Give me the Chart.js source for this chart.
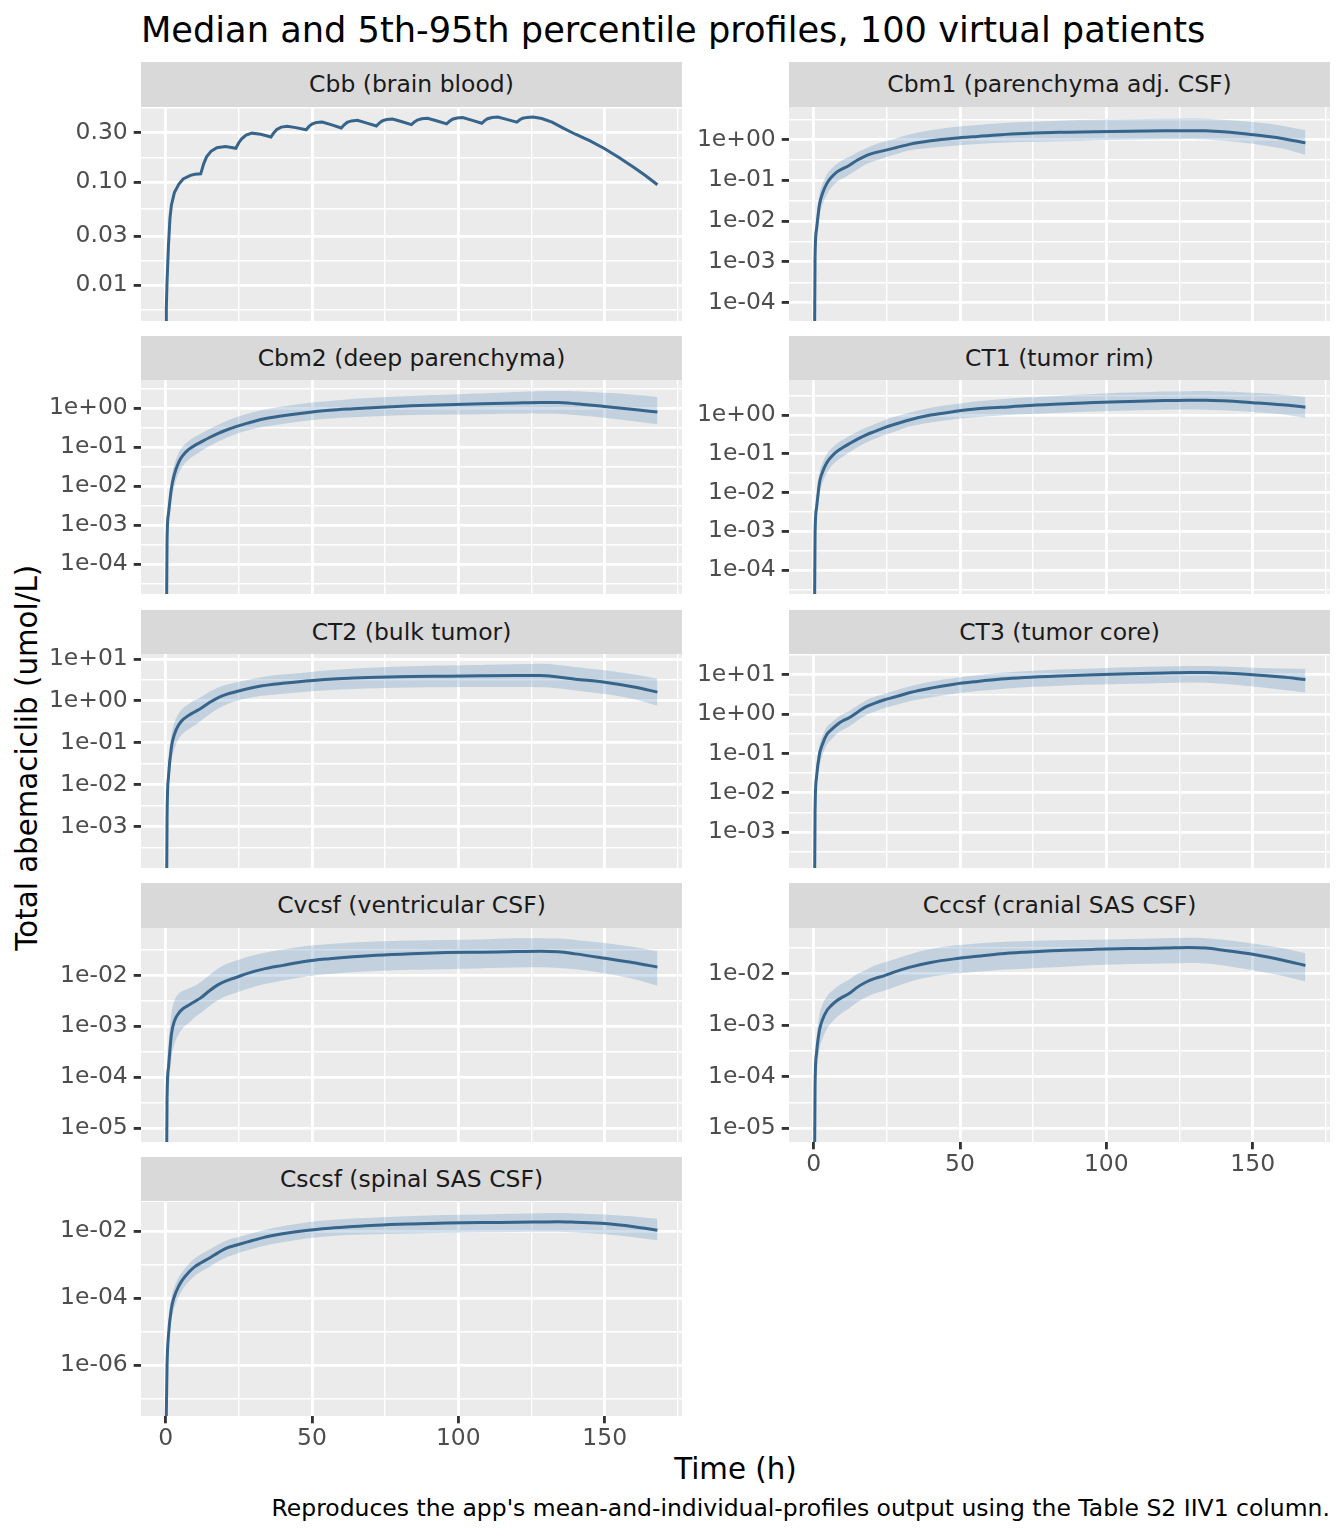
<!DOCTYPE html>
<html>
<head>
<meta charset="utf-8">
<script src="https://cdn.jsdelivr.net/npm/chart.js@4.4.1/dist/chart.umd.min.js"></script>
<style>
    body { margin: 0; width: 1344px; height: 1536px; background: #fff; position: relative; overflow: hidden; font-family: "DejaVu Sans", sans-serif; }
    canvas { position: absolute; }
    .txt { position: absolute; white-space: nowrap; }
    .strip { position: absolute; background: #D9D9D9; color: #1A1A1A; font-size: 23.47px; text-align: center; white-space: nowrap; }
</style>
</head>
<body>
<div class="txt" style="left:141px; top:11.9px; font-size:35.2px; line-height:35.2px; color:#000;">Median and 5th-95th percentile profiles, 100 virtual patients</div>
<div class="txt" style="left:-272.2px; top:742.9px; width:600px; text-align:center; font-size:29.33px; line-height:29.33px; color:#000; transform:rotate(-90deg);">Total abemaciclib (umol/L)</div>
<div class="txt" style="left:435.5px; top:1455.2px; width:600px; text-align:center; font-size:29.33px; line-height:29.33px; color:#000;">Time (h)</div>
<div class="txt" style="left:29.9px; top:1497.1px; width:1300px; text-align:right; font-size:23.47px; line-height:23.47px; color:#000;">Reproduces the app's mean-and-individual-profiles output using the Table S2 IIV1 column.</div>

<script>
// Time grid (h) shared by the ribbon panels
const timeH = [0, 0.5, 1, 2, 3, 4.5, 6, 8, 10, 12, 15, 18, 21, 24, 28, 33, 40, 48, 56, 64, 72, 84, 96, 108, 120, 128, 134, 140, 150, 160, 168];

// Cbb has no spread, only the median, on a finer grid (12 h dosing)
const cbbTime = [0, 0.25, 0.5, 1, 1.5, 2, 3, 4.5, 6, 8.5, 10,
    12, 13, 14, 15.5, 17.5, 20.5,
    24, 25, 26, 27.5, 29.5, 32.5,
    36, 37, 38, 39.5, 41.5, 44.5,
    48, 49, 50, 51.5, 53.5, 56.5,
    60, 61, 62, 63.5, 65.5, 68.5,
    72, 73, 74, 75.5, 77.5, 80.5,
    84, 85, 86, 87.5, 89.5, 92.5,
    96, 97, 98, 99.5, 101.5, 104.5,
    108, 109, 110, 111.5, 113.5, 116.5,
    120, 121, 122, 123.5, 125.5, 128.5,
    132, 136, 140, 145, 150, 155, 160, 164, 168];
const cbbMedian = [1e-9, 0.006, 0.011, 0.025, 0.045, 0.06, 0.079, 0.095, 0.107, 0.116, 0.119,
    0.12, 0.15, 0.175, 0.198, 0.215, 0.22,
    0.212, 0.24, 0.262, 0.284, 0.297, 0.29,
    0.273, 0.3, 0.322, 0.34, 0.346, 0.336,
    0.32, 0.345, 0.363, 0.377, 0.381, 0.359,
    0.333, 0.358, 0.377, 0.39, 0.395, 0.373,
    0.348, 0.372, 0.39, 0.402, 0.407, 0.385,
    0.359, 0.382, 0.398, 0.409, 0.413, 0.391,
    0.365, 0.388, 0.405, 0.416, 0.42, 0.397,
    0.37, 0.393, 0.41, 0.421, 0.425, 0.404,
    0.38, 0.4, 0.414, 0.422, 0.425, 0.412,
    0.38, 0.33, 0.29, 0.25, 0.21, 0.172, 0.138, 0.115, 0.094];

// Median, 5th and 95th percentiles (umol/L), value at t = 0 is zero (drawn at the floor)
const cbm1Median = [1e-9, 1.26e-3, 6.31e-3, 2.51e-2, 4.68e-2, 8.32e-2, 0.1175, 0.162, 0.195, 0.229, 0.316, 0.407, 0.479, 0.537, 0.631, 0.776, 0.933, 1.08, 1.20, 1.32, 1.41, 1.51, 1.55, 1.60, 1.64, 1.66, 1.64, 1.55, 1.32, 1.07, 0.832];
const cbm1High = [1e-9, 2.51e-3, 1.26e-2, 4.47e-2, 7.94e-2, 0.138, 0.191, 0.257, 0.316, 0.372, 0.49, 0.617, 0.759, 0.891, 1.07, 1.35, 1.70, 2.04, 2.29, 2.51, 2.69, 2.92, 3.05, 3.16, 3.24, 3.31, 3.27, 3.09, 2.69, 2.19, 1.70];
const cbm1Low = [1e-9, 5.01e-4, 2.82e-3, 1.26e-2, 2.51e-2, 4.47e-2, 6.61e-2, 9.12e-2, 0.112, 0.135, 0.186, 0.251, 0.302, 0.355, 0.437, 0.550, 0.631, 0.708, 0.776, 0.832, 0.871, 0.912, 0.955, 0.989, 1.02, 1.04, 1.01, 0.933, 0.794, 0.603, 0.427];

const cbm2Median = [1e-9, 3.98e-4, 2.00e-3, 8.91e-3, 2.00e-2, 4.17e-2, 6.31e-2, 8.91e-2, 0.112, 0.135, 0.178, 0.229, 0.282, 0.339, 0.417, 0.525, 0.646, 0.776, 0.891, 0.977, 1.06, 1.16, 1.24, 1.32, 1.38, 1.41, 1.41, 1.32, 1.11, 0.933, 0.804];
const cbm2High = [1e-9, 7.94e-4, 3.98e-3, 1.66e-2, 3.55e-2, 7.24e-2, 0.107, 0.148, 0.186, 0.224, 0.295, 0.380, 0.479, 0.589, 0.724, 0.912, 1.12, 1.35, 1.55, 1.74, 1.91, 2.09, 2.24, 2.40, 2.63, 2.75, 2.79, 2.75, 2.51, 2.24, 1.95];
const cbm2Low = [1e-9, 1.58e-4, 8.91e-4, 4.17e-3, 1.00e-2, 2.19e-2, 3.39e-2, 4.90e-2, 6.31e-2, 7.94e-2, 0.107, 0.141, 0.178, 0.219, 0.269, 0.331, 0.398, 0.479, 0.550, 0.589, 0.631, 0.676, 0.692, 0.708, 0.733, 0.741, 0.724, 0.676, 0.575, 0.468, 0.389];

const ct1Median = [1e-9, 7.94e-4, 3.98e-3, 1.78e-2, 3.31e-2, 5.89e-2, 8.32e-2, 0.115, 0.145, 0.178, 0.240, 0.309, 0.380, 0.468, 0.589, 0.759, 1.00, 1.23, 1.45, 1.58, 1.74, 1.93, 2.11, 2.24, 2.37, 2.43, 2.43, 2.34, 2.09, 1.84, 1.60];
const ct1High = [1e-9, 1.41e-3, 7.08e-3, 3.16e-2, 5.62e-2, 9.77e-2, 0.135, 0.182, 0.229, 0.282, 0.372, 0.479, 0.589, 0.724, 0.912, 1.17, 1.55, 1.91, 2.29, 2.57, 2.82, 3.16, 3.51, 3.80, 4.03, 4.12, 4.17, 4.07, 3.76, 3.35, 2.92];
const ct1Low = [1e-9, 3.55e-4, 2.00e-3, 8.91e-3, 1.74e-2, 3.16e-2, 4.68e-2, 6.61e-2, 8.51e-2, 0.107, 0.148, 0.195, 0.245, 0.302, 0.380, 0.513, 0.646, 0.776, 0.891, 0.977, 1.05, 1.15, 1.24, 1.32, 1.38, 1.40, 1.38, 1.33, 1.20, 1.05, 0.851];

const ct2Median = [1e-9, 1.58e-3, 1.58e-2, 7.94e-2, 0.158, 0.269, 0.363, 0.457, 0.550, 0.661, 0.912, 1.20, 1.45, 1.66, 1.95, 2.29, 2.63, 2.99, 3.31, 3.51, 3.67, 3.85, 3.89, 3.98, 4.03, 4.03, 3.72, 3.31, 2.79, 2.14, 1.62];
const ct2High = [1e-9, 3.16e-3, 3.16e-2, 0.151, 0.302, 0.501, 0.676, 0.851, 1.05, 1.23, 1.66, 2.09, 2.45, 2.75, 3.16, 3.72, 4.27, 4.79, 5.37, 5.89, 6.31, 6.76, 7.00, 7.24, 7.50, 7.67, 7.24, 6.46, 5.37, 4.27, 3.39];
const ct2Low = [1e-9, 6.31e-4, 7.08e-3, 3.55e-2, 7.08e-2, 0.126, 0.170, 0.214, 0.263, 0.331, 0.479, 0.661, 0.832, 0.977, 1.15, 1.32, 1.48, 1.66, 1.82, 1.93, 2.00, 2.09, 2.11, 2.14, 2.14, 2.11, 2.00, 1.78, 1.46, 1.10, 0.776];

const ct3Median = [1e-9, 3.16e-3, 2.51e-2, 9.55e-2, 0.170, 0.302, 0.398, 0.537, 0.676, 0.794, 1.12, 1.55, 1.91, 2.29, 2.75, 3.55, 4.57, 5.75, 6.76, 7.76, 8.51, 9.33, 10.0, 10.6, 11.1, 11.4, 11.4, 11.0, 10.0, 8.71, 7.59];
const ct3High = [1e-9, 5.62e-3, 4.47e-2, 0.158, 0.275, 0.468, 0.603, 0.794, 1.00, 1.17, 1.66, 2.24, 2.75, 3.24, 3.98, 5.13, 6.61, 8.32, 9.77, 11.2, 12.3, 13.5, 14.5, 15.5, 16.2, 16.8, 16.8, 16.2, 15.1, 14.5, 14.1];
const ct3Low = [1e-9, 1.41e-3, 1.12e-2, 4.79e-2, 8.91e-2, 0.166, 0.224, 0.316, 0.398, 0.479, 0.692, 0.955, 1.17, 1.41, 1.70, 2.14, 2.69, 3.31, 3.89, 4.37, 4.79, 5.25, 5.62, 5.89, 6.17, 6.31, 6.24, 5.89, 5.01, 4.17, 3.55];

const cvcsfMedian = [1e-9, 3.98e-5, 1.58e-4, 7.08e-4, 1.26e-3, 1.82e-3, 2.24e-3, 2.63e-3, 3.09e-3, 3.63e-3, 5.01e-3, 6.61e-3, 7.94e-3, 9.12e-3, 1.10e-2, 1.32e-2, 1.58e-2, 1.91e-2, 2.14e-2, 2.34e-2, 2.51e-2, 2.69e-2, 2.82e-2, 2.88e-2, 2.95e-2, 2.99e-2, 2.92e-2, 2.66e-2, 2.19e-2, 1.78e-2, 1.46e-2];
const cvcsfHigh = [1e-9, 1.00e-4, 4.47e-4, 1.78e-3, 3.16e-3, 4.37e-3, 5.01e-3, 5.62e-3, 6.31e-3, 7.41e-3, 1.02e-2, 1.38e-2, 1.70e-2, 1.95e-2, 2.34e-2, 2.75e-2, 3.24e-2, 3.80e-2, 4.17e-2, 4.47e-2, 4.68e-2, 4.90e-2, 5.01e-2, 5.13e-2, 5.37e-2, 5.43e-2, 5.31e-2, 5.01e-2, 4.37e-2, 3.63e-2, 2.99e-2];
const cvcsfLow = [1e-9, 1.26e-5, 5.01e-5, 2.40e-4, 4.47e-4, 7.08e-4, 9.33e-4, 1.17e-3, 1.51e-3, 1.82e-3, 2.51e-3, 3.31e-3, 3.98e-3, 4.57e-3, 5.50e-3, 6.61e-3, 7.94e-3, 9.55e-3, 1.07e-2, 1.17e-2, 1.23e-2, 1.29e-2, 1.33e-2, 1.38e-2, 1.43e-2, 1.45e-2, 1.41e-2, 1.32e-2, 1.10e-2, 8.51e-3, 6.31e-3];

const cccsfMedian = [1e-9, 6.31e-5, 2.82e-4, 7.94e-4, 1.26e-3, 1.91e-3, 2.40e-3, 3.02e-3, 3.55e-3, 4.07e-3, 5.50e-3, 6.92e-3, 8.13e-3, 9.12e-3, 1.10e-2, 1.35e-2, 1.66e-2, 1.95e-2, 2.19e-2, 2.45e-2, 2.63e-2, 2.85e-2, 2.99e-2, 3.09e-2, 3.16e-2, 3.24e-2, 3.16e-2, 2.88e-2, 2.40e-2, 1.86e-2, 1.45e-2];
const cccsfHigh = [1e-9, 1.26e-4, 5.62e-4, 1.58e-3, 2.51e-3, 3.63e-3, 4.47e-3, 5.62e-3, 6.61e-3, 7.59e-3, 1.00e-2, 1.20e-2, 1.45e-2, 1.66e-2, 1.95e-2, 2.40e-2, 3.02e-2, 3.55e-2, 3.89e-2, 4.17e-2, 4.32e-2, 4.47e-2, 4.57e-2, 4.73e-2, 4.90e-2, 5.01e-2, 4.90e-2, 4.57e-2, 3.89e-2, 3.16e-2, 2.51e-2];
const cccsfLow = [1e-9, 2.51e-5, 1.12e-4, 3.31e-4, 5.37e-4, 8.32e-4, 1.10e-3, 1.45e-3, 1.78e-3, 2.09e-3, 2.82e-3, 3.55e-3, 4.17e-3, 4.68e-3, 5.62e-3, 7.08e-3, 8.71e-3, 1.00e-2, 1.10e-2, 1.20e-2, 1.26e-2, 1.35e-2, 1.48e-2, 1.55e-2, 1.58e-2, 1.62e-2, 1.58e-2, 1.45e-2, 1.17e-2, 9.12e-3, 7.08e-3];

const cscsfMedian = [1e-9, 1.00e-6, 7.94e-6, 5.01e-5, 1.12e-4, 2.29e-4, 3.72e-4, 6.03e-4, 8.71e-4, 1.12e-3, 1.58e-3, 2.29e-3, 3.16e-3, 3.80e-3, 4.79e-3, 6.31e-3, 8.32e-3, 1.05e-2, 1.23e-2, 1.38e-2, 1.51e-2, 1.64e-2, 1.74e-2, 1.80e-2, 1.84e-2, 1.88e-2, 1.91e-2, 1.84e-2, 1.68e-2, 1.35e-2, 1.07e-2];
const cscsfHigh = [1e-9, 2.00e-6, 1.58e-5, 1.00e-4, 2.14e-4, 4.17e-4, 6.61e-4, 1.07e-3, 1.55e-3, 2.00e-3, 2.82e-3, 3.98e-3, 5.37e-3, 6.31e-3, 7.94e-3, 1.05e-2, 1.41e-2, 1.82e-2, 2.14e-2, 2.40e-2, 2.57e-2, 2.82e-2, 3.02e-2, 3.16e-2, 3.31e-2, 3.43e-2, 3.47e-2, 3.39e-2, 3.16e-2, 2.75e-2, 2.34e-2];
const cscsfLow = [1e-9, 3.98e-7, 3.55e-6, 2.24e-5, 5.25e-5, 1.12e-4, 1.91e-4, 3.16e-4, 4.68e-4, 6.17e-4, 8.71e-4, 1.26e-3, 1.70e-3, 2.09e-3, 2.69e-3, 3.55e-3, 4.68e-3, 6.03e-3, 7.08e-3, 7.76e-3, 8.13e-3, 8.51e-3, 8.91e-3, 9.23e-3, 9.44e-3, 9.55e-3, 9.55e-3, 9.12e-3, 8.13e-3, 6.61e-3, 5.37e-3];

// Axis ticks
const xMajor = [0, 50, 100, 150];
const xMinor = [25, 75, 125, 175];
const xTickLabels = ['0', '50', '100', '150'];
const cbbBreaks = [0.01, 0.03, 0.1, 0.3];
const cbbLabels = ['0.01', '0.03', '0.10', '0.30'];
const decBreaks4to0 = [1e-4, 1e-3, 1e-2, 1e-1, 1];
const decLabels4to0 = ['1e-04', '1e-03', '1e-02', '1e-01', '1e+00'];
const decBreaks3to1 = [1e-3, 1e-2, 1e-1, 1, 10];
const decLabels3to1 = ['1e-03', '1e-02', '1e-01', '1e+00', '1e+01'];
const csfBreaks = [1e-5, 1e-4, 1e-3, 1e-2];
const csfLabels = ['1e-05', '1e-04', '1e-03', '1e-02'];
const spinalBreaks = [1e-6, 1e-4, 1e-2];
const spinalLabels = ['1e-06', '1e-04', '1e-02'];

// Colours
const LINE_COLOR = '#36648B';
const BAND_COLOR = 'rgba(70, 130, 180, 0.25)';

Chart.defaults.font.family = "'DejaVu Sans', sans-serif";

// Layout (px)
const PANEL_TOP = 106.7;
const ROW_STEP = 273.7;
const PANEL_H = 214;
const PANEL_W = 541;
const STRIP_H = 44.4;
const MARGIN = 16;
const AXIS_H = 60;

const panels = [
    { title: 'Cbb (brain blood)', row: 0, col: 0, time: cbbTime, median: cbbMedian, yMin: 0.00451, yMax: 0.532, breaks: cbbBreaks, labels: cbbLabels },
    { title: 'Cbm1 (parenchyma adj. CSF)', row: 0, col: 1, time: timeH, median: cbm1Median, low: cbm1Low, high: cbm1High, yMin: 3.55e-5, yMax: 6.31, breaks: decBreaks4to0, labels: decLabels4to0 },
    { title: 'Cbm2 (deep parenchyma)', row: 1, col: 0, time: timeH, median: cbm2Median, low: cbm2Low, high: cbm2High, yMin: 1.69e-5, yMax: 5.36, breaks: decBreaks4to0, labels: decLabels4to0 },
    { title: 'CT1 (tumor rim)', row: 1, col: 1, time: timeH, median: ct1Median, low: ct1Low, high: ct1High, yMin: 2.40e-5, yMax: 8.04, breaks: decBreaks4to0, labels: decLabels4to0 },
    { title: 'CT2 (bulk tumor)', row: 2, col: 0, time: timeH, median: ct2Median, low: ct2Low, high: ct2High, yMin: 1.02e-4, yMax: 13.2, breaks: decBreaks3to1, labels: decLabels3to1 },
    { title: 'CT3 (tumor core)', row: 2, col: 1, time: timeH, median: ct3Median, low: ct3Low, high: ct3High, yMin: 1.233e-4, yMax: 33.65, breaks: decBreaks3to1, labels: decLabels3to1 },
    { title: 'Cvcsf (ventricular CSF)', row: 3, col: 0, time: timeH, median: cvcsfMedian, low: cvcsfLow, high: cvcsfHigh, yMin: 5.30e-6, yMax: 0.0859, breaks: csfBreaks, labels: csfLabels },
    { title: 'Cccsf (cranial SAS CSF)', row: 3, col: 1, time: timeH, median: cccsfMedian, low: cccsfLow, high: cccsfHigh, yMin: 5.33e-6, yMax: 0.0778, breaks: csfBreaks, labels: csfLabels, xAxis: true },
    { title: 'Cscsf (spinal SAS CSF)', row: 4, col: 0, time: timeH, median: cscsfMedian, low: cscsfLow, high: cscsfHigh, yMin: 3.43e-8, yMax: 0.0743, breaks: spinalBreaks, labels: spinalLabels, xAxis: true }
];

// Grey panel background
const panelBackground = {
    id: 'panelBackground',
    beforeDraw(chart) {
        const a = chart.chartArea;
        const ctx = chart.ctx;
        ctx.save();
        ctx.fillStyle = '#EBEBEB';
        ctx.fillRect(a.left, a.top, a.right - a.left, a.bottom - a.top);
        ctx.restore();
    }
};

// Minor breaks sit half way (in log space) between the major ones
function minorBreaks(breaks, lo, hi) {
    const logs = breaks.map(Math.log10);
    const ext = [logs[0] - (logs[1] - logs[0]), ...logs, logs[logs.length - 1] + (logs[logs.length - 1] - logs[logs.length - 2])];
    const out = [];
    for (let i = 0; i < ext.length - 1; i++) {
        const v = Math.pow(10, (ext[i] + ext[i + 1]) / 2);
        if (v > lo && v < hi) out.push(v);
    }
    return out;
}

const pts = (xs, ys) => xs.map((x, i) => ({ x: x, y: ys[i] }));
const isMinor = ctx => ctx.tick && ctx.tick.isMinor;

function buildPanel(p) {
    const left = p.col === 0 ? 0 : 689;
    const axisW = p.col === 0 ? 141 : 100;
    const panelTop = PANEL_TOP + ROW_STEP * p.row;

    // strip
    const strip = document.createElement('div');
    strip.className = 'strip';
    strip.style.left = (left + axisW) + 'px';
    strip.style.top = (panelTop - STRIP_H) + 'px';
    strip.style.width = PANEL_W + 'px';
    strip.style.height = STRIP_H + 'px';
    strip.style.lineHeight = (STRIP_H + 1) + 'px';
    strip.textContent = p.title;
    document.body.appendChild(strip);

    // canvas
    const canvas = document.createElement('canvas');
    const w = axisW + PANEL_W;
    const h = MARGIN + PANEL_H + (p.xAxis ? AXIS_H : MARGIN);
    canvas.width = w;
    canvas.height = h;
    canvas.style.left = left + 'px';
    canvas.style.top = (panelTop - MARGIN) + 'px';
    canvas.style.width = w + 'px';
    canvas.style.height = h + 'px';
    document.body.appendChild(canvas);

    const yMinor = minorBreaks(p.breaks, p.yMin, p.yMax);
    const yTicks = p.breaks.map(v => ({ value: v, isMinor: false }))
        .concat(yMinor.map(v => ({ value: v, isMinor: true })))
        .sort((a, b) => a.value - b.value);
    const xTicks = xMajor.map(v => ({ value: v, isMinor: false }))
        .concat(xMinor.map(v => ({ value: v, isMinor: true })))
        .sort((a, b) => a.value - b.value);

    const datasets = [{
        data: pts(p.time, p.median),
        borderColor: LINE_COLOR,
        borderWidth: 3,
        pointRadius: 0,
        fill: false,
        tension: 0,
        cubicInterpolationMode: p.low ? 'monotone' : 'default',
        clip: 0
    }];
    if (p.low) {
        datasets.push({
            data: pts(p.time, p.high),
            borderColor: 'rgba(0,0,0,0)',
            borderWidth: 0,
            pointRadius: 0,
            backgroundColor: BAND_COLOR,
            fill: '+1',
            cubicInterpolationMode: 'monotone',
            clip: 0
        });
        datasets.push({
            data: pts(p.time, p.low),
            borderColor: 'rgba(0,0,0,0)',
            borderWidth: 0,
            pointRadius: 0,
            fill: false,
            cubicInterpolationMode: 'monotone',
            clip: 0
        });
    }

    new Chart(canvas.getContext('2d'), {
        type: 'line',
        data: { datasets: datasets },
        plugins: [panelBackground],
        options: {
            responsive: false,
            animation: false,
            events: [],
            layout: { padding: { top: MARGIN, bottom: p.xAxis ? 0 : MARGIN, left: 0, right: 0 } },
            plugins: { legend: { display: false }, tooltip: { enabled: false } },
            scales: {
                x: {
                    type: 'linear',
                    min: -8.4,
                    max: 176.4,
                    afterBuildTicks: s => { s.ticks = xTicks.map(t => Object.assign({}, t)); },
                    afterFit: s => { s.height = p.xAxis ? AXIS_H : 0; s.paddingLeft = 0; s.paddingRight = 0; },
                    ticks: {
                        display: !!p.xAxis,
                        autoSkip: false,
                        maxRotation: 0,
                        padding: 1.5,
                        color: '#4D4D4D',
                        font: { size: 23.47 },
                        callback: (v, i, ticks) => ticks[i].isMinor ? '' : xTickLabels[xMajor.indexOf(v)]
                    },
                    grid: {
                        color: '#FFFFFF',
                        lineWidth: ctx => isMinor(ctx) ? 1.42 : 2.85,
                        drawTicks: !!p.xAxis,
                        tickLength: 7.3,
                        tickColor: ctx => isMinor(ctx) ? 'rgba(0,0,0,0)' : '#333333',
                        tickWidth: 2.85
                    },
                    border: { display: false }
                },
                y: {
                    type: 'logarithmic',
                    min: p.yMin,
                    max: p.yMax,
                    afterBuildTicks: s => { s.ticks = yTicks.map(t => Object.assign({}, t)); },
                    afterFit: s => { s.width = axisW; s.paddingTop = 0; s.paddingBottom = 0; },
                    ticks: {
                        autoSkip: false,
                        padding: 5.9,
                        color: '#4D4D4D',
                        font: { size: 23.47 },
                        callback: (v, i, ticks) => {
                            if (ticks[i].isMinor) return '';
                            const k = p.breaks.findIndex(b => Math.abs(b - v) / b < 1e-6);
                            return k >= 0 ? p.labels[k] : '';
                        }
                    },
                    grid: {
                        color: '#FFFFFF',
                        lineWidth: ctx => isMinor(ctx) ? 1.42 : 2.85,
                        tickLength: 7.3,
                        tickColor: ctx => isMinor(ctx) ? 'rgba(0,0,0,0)' : '#333333',
                        tickWidth: 2.85
                    },
                    border: { display: false }
                }
            }
        }
    });
}

panels.forEach(buildPanel);
</script>
</body>
</html>
